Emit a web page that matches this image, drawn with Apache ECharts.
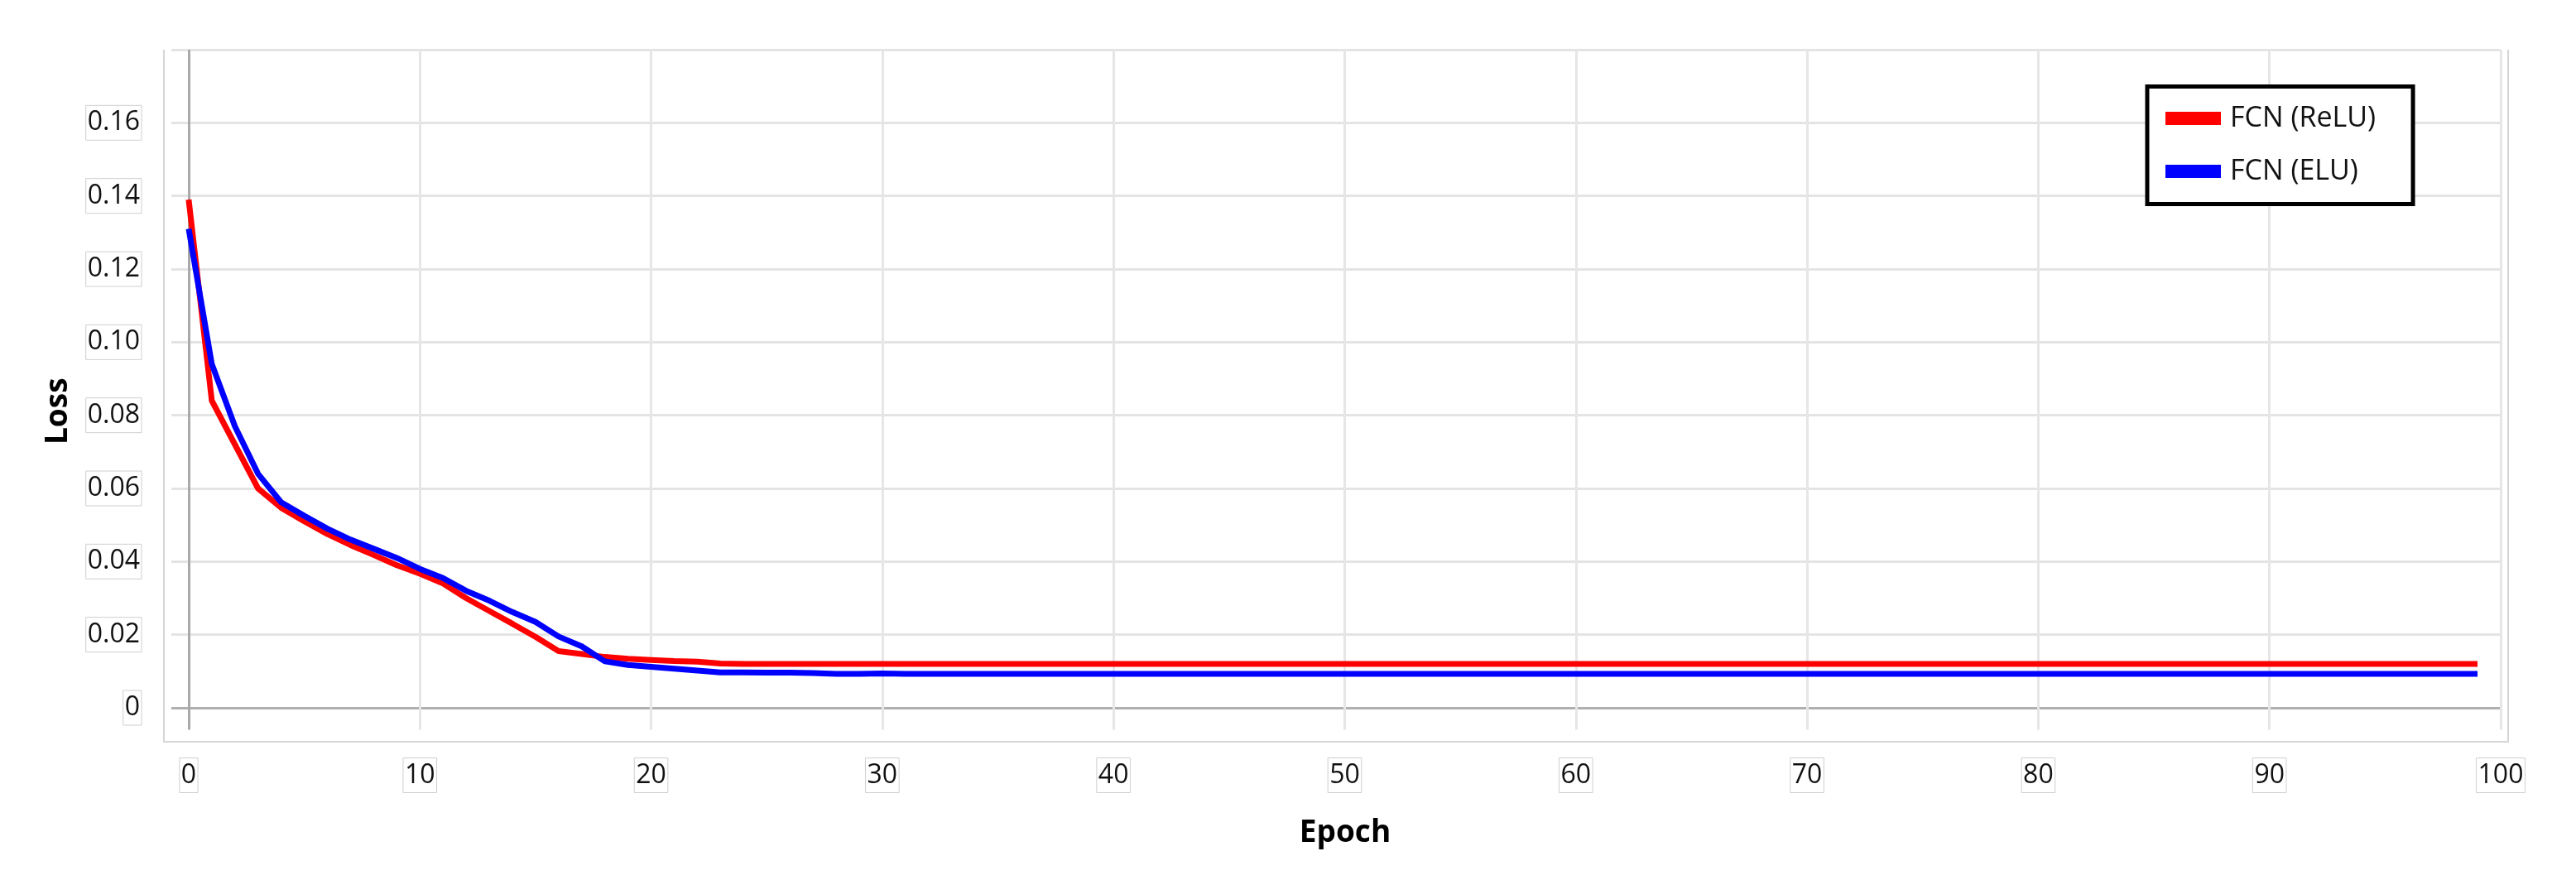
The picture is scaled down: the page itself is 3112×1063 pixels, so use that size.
<!DOCTYPE html>
<html>
<head>
<meta charset="utf-8">
<title>Loss vs Epoch</title>
<script src="https://cdn.jsdelivr.net/npm/echarts@6/dist/echarts.min.js"></script>
<style>
  html, body { margin: 0; padding: 0; background: #fff; }
  #chartLineBox { width: 3112px; height: 1063px; }
</style>
</head>
<body>
<div id="chartLineBox"></div>
<script>
// epoch index (x axis)
const epochs = [
  0, 1, 2, 3, 4, 5, 6, 7, 8, 9, 10, 11, 12, 13, 14, 15, 16, 17, 18, 19,
  20, 21, 22, 23, 24, 25, 26, 27, 28, 29, 30, 31, 32, 33, 34, 35, 36, 37, 38, 39,
  40, 41, 42, 43, 44, 45, 46, 47, 48, 49, 50, 51, 52, 53, 54, 55, 56, 57, 58, 59,
  60, 61, 62, 63, 64, 65, 66, 67, 68, 69, 70, 71, 72, 73, 74, 75, 76, 77, 78, 79,
  80, 81, 82, 83, 84, 85, 86, 87, 88, 89, 90, 91, 92, 93, 94, 95, 96, 97, 98, 99
];

// FCN (ReLU) loss
const reluLoss = [
  0.139, 0.084, 0.072, 0.060, 0.0547, 0.051, 0.0475, 0.0445, 0.0418, 0.039,
  0.0367, 0.034, 0.030, 0.0265, 0.023, 0.0194, 0.0155, 0.0147, 0.0139, 0.0134,
  0.0131, 0.0128, 0.0126, 0.0121, 0.012, 0.012, 0.012, 0.012, 0.012, 0.012,
  0.012, 0.012, 0.012, 0.012, 0.012, 0.012, 0.012, 0.012, 0.012, 0.012,
  0.012, 0.012, 0.012, 0.012, 0.012, 0.012, 0.012, 0.012, 0.012, 0.012,
  0.012, 0.012, 0.012, 0.012, 0.012, 0.012, 0.012, 0.012, 0.012, 0.012,
  0.012, 0.012, 0.012, 0.012, 0.012, 0.012, 0.012, 0.012, 0.012, 0.012,
  0.012, 0.012, 0.012, 0.012, 0.012, 0.012, 0.012, 0.012, 0.012, 0.012,
  0.012, 0.012, 0.012, 0.012, 0.012, 0.012, 0.012, 0.012, 0.012, 0.012,
  0.012, 0.012, 0.012, 0.012, 0.012, 0.012, 0.012, 0.012, 0.012, 0.012
];

// FCN (ELU) loss
const eluLoss = [
  0.131, 0.094, 0.077, 0.064, 0.0562, 0.0525, 0.049, 0.046, 0.0435, 0.041,
  0.038, 0.0355, 0.032, 0.0293, 0.0262, 0.0235, 0.0195, 0.0168, 0.0127, 0.0117,
  0.0112, 0.0107, 0.0102, 0.0097, 0.0097, 0.0096, 0.0096, 0.0095, 0.0093, 0.0093,
  0.0094, 0.0093, 0.0093, 0.0093, 0.0093, 0.0093, 0.0093, 0.0093, 0.0093, 0.0093,
  0.0093, 0.0093, 0.0093, 0.0093, 0.0093, 0.0093, 0.0093, 0.0093, 0.0093, 0.0093,
  0.0093, 0.0093, 0.0093, 0.0093, 0.0093, 0.0093, 0.0093, 0.0093, 0.0093, 0.0093,
  0.0093, 0.0093, 0.0093, 0.0093, 0.0093, 0.0093, 0.0093, 0.0093, 0.0093, 0.0093,
  0.0093, 0.0093, 0.0093, 0.0093, 0.0093, 0.0093, 0.0093, 0.0093, 0.0093, 0.0093,
  0.0093, 0.0093, 0.0093, 0.0093, 0.0093, 0.0093, 0.0093, 0.0093, 0.0093, 0.0093,
  0.0093, 0.0093, 0.0093, 0.0093, 0.0093, 0.0093, 0.0093, 0.0093, 0.0093, 0.0093
];

const seriesNames = ['FCN (ReLU)', 'FCN (ELU)'];
const seriesColors = ['#ff0000', '#0000ff'];

const fontFamily = '"Open Sans", "DejaVu Sans", sans-serif';

const chartLine = echarts.init(document.getElementById('chartLineBox'), null, { renderer: 'canvas' });

// split line colours: first (extent min) hidden, zero line darker
const xLineColors = ['rgba(0,0,0,0)', '#a9a9a9'];
for (let i = 0; i < 10; i++) xLineColors.push('#e6e6e6');
const yLineColors = ['rgba(0,0,0,0)', '#b0b0b0'];
for (let i = 0; i < 9; i++) yLineColors.push('#e4e4e4');

const labelBox = {
  color: '#111',
  fontSize: 32,
  fontFamily: fontFamily,
  borderColor: '#cfcfcf',
  borderWidth: 1,
  padding: [5, 2, 5, 2]
};

const option = {
  animation: false,
  backgroundColor: '#fff',
  grid: {
    left: 207,
    right: 91,
    top: 60,
    bottom: 181.5
  },
  // outer light frame (left, bottom, right)
  graphic: [
    {
      type: 'polyline',
      shape: { points: [[198, 60], [198, 896], [3030, 896], [3030, 60]] },
      style: { stroke: '#d6d6d6', lineWidth: 2, fill: null },
      silent: true,
      z: -1
    }
  ],
  legend: {
    orient: 'vertical',
    left: 2594,
    top: 104.5,
    data: seriesNames,
    icon: 'rect',
    itemWidth: 67,
    itemHeight: 16,
    itemGap: 30,
    padding: [21.5, 45, 22.5, 22],
    borderColor: '#000',
    borderWidth: 5,
    backgroundColor: '#fff',
    textStyle: {
      color: '#111',
      fontSize: 34,
      lineHeight: 34,
      fontFamily: fontFamily,
      padding: [0, 0, 0, 6]
    }
  },
  xAxis: {
    type: 'value',
    min: -0.75,
    max: 100,
    splitNumber: 10,
    minInterval: 10,
    maxInterval: 10,
    name: 'Epoch',
    nameLocation: 'middle',
    nameGap: 106,
    nameTextStyle: {
      color: '#000',
      fontSize: 37,
      fontWeight: 'bold',
      fontFamily: fontFamily,
      padding: [0, 0, 0, 22]
    },
    axisLine: { show: false },
    axisTick: { show: false },
    axisLabel: Object.assign({ margin: 34, showMinLabel: false }, labelBox),
    splitLine: {
      show: true,
      lineStyle: { color: xLineColors, width: 3 }
    }
  },
  yAxis: {
    type: 'value',
    min: -0.006,
    max: 0.18,
    splitNumber: 9,
    minInterval: 0.02,
    maxInterval: 0.02,
    name: 'Loss',
    nameLocation: 'middle',
    nameGap: 118,
    nameTextStyle: {
      color: '#000',
      fontSize: 37,
      fontWeight: 'bold',
      fontFamily: fontFamily,
      padding: [0, 52, 0, 0]
    },
    axisLine: { show: false },
    axisTick: { show: false },
    axisLabel: Object.assign({
      margin: 36,
      showMinLabel: false,
      showMaxLabel: false,
      formatter: function (v) {
        return Math.abs(v) < 1e-9 ? '0' : v.toFixed(2);
      }
    }, labelBox),
    splitLine: {
      show: true,
      lineStyle: { color: yLineColors, width: 3 }
    }
  },
  series: [
    {
      name: seriesNames[0],
      type: 'line',
      data: epochs.map((e, i) => [e, reluLoss[i]]),
      symbol: 'none',
      color: seriesColors[0],
      lineStyle: { color: seriesColors[0], width: 7 }
    },
    {
      name: seriesNames[1],
      type: 'line',
      data: epochs.map((e, i) => [e, eluLoss[i]]),
      symbol: 'none',
      color: seriesColors[1],
      lineStyle: { color: seriesColors[1], width: 7 }
    }
  ]
};

chartLine.setOption(option);

window.addEventListener('resize', () => {
  chartLine.resize();
});
</script>
</body>
</html>
